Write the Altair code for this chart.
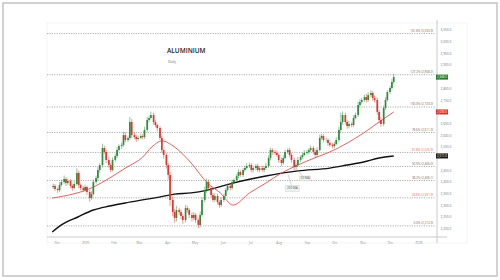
import altair as alt
import pandas as pd

# ---- data ----
closes = [
    2383, 2370,
    2365, 2387, 2400,  2412, 2395, 2404,  2383, 2374, 2391,  2438, 2387, 2374,
    2365, 2378, 2357,  2331, 2348, 2400,  2417, 2451, 2472,  2545, 2528, 2494,
    2472, 2451, 2494,  2511, 2536, 2553,  2558, 2600, 2579,  2588, 2656, 2600,
    2592, 2583, 2588,  2596, 2592, 2622,  2665, 2673, 2686,  2656, 2643, 2630,
    2588, 2536, 2515,  2472, 2430, 2323,  2271, 2246, 2280,  2271, 2254, 2237,
    2288, 2280, 2259,  2246, 2259, 2237,  2216, 2259, 2323,  2365, 2400, 2374,
    2344, 2323, 2340,  2314, 2301, 2323,  2340, 2365, 2383,  2374, 2400, 2408,
    2425, 2442, 2430,  2451, 2459, 2468,  2472, 2451, 2459,  2468, 2451, 2459,
    2451, 2459, 2468,  2502, 2536, 2528,  2524, 2515, 2494,  2481, 2502, 2528,
    2536, 2515, 2494,  2464, 2472, 2494,  2506, 2515, 2524,  2528, 2536, 2545,
    2528, 2515, 2536,  2588, 2596, 2579,  2579, 2566, 2558,  2553, 2562, 2579,
    2622, 2656, 2686,  2656, 2639, 2648,  2643, 2673, 2686,  2729, 2742, 2750,
    2763, 2750, 2771,  2780, 2759, 2750,  2699, 2665, 2648,  2716, 2750, 2784,
    2801, 2827, 2848,
]
first_open = 2378
up_wick = [
    10, 8,
    6, 12, 10, 15, 8, 10, 8, 6, 12, 20, 10, 6, 8, 10, 6, 8, 12, 10,
    10, 12, 8, 18, 10, 8, 12, 8, 10, 10, 12, 8, 10, 15, 12, 10, 22, 12,
    12, 8, 10, 10, 8, 14, 12, 10, 14, 10, 8, 6, 8, 10, 6, 8, 10, 12,
    15, 12, 18, 10, 12, 8, 14, 10, 8, 10, 12, 8, 8, 15, 12, 14, 15, 10,
    8, 10, 12, 10, 8, 12, 10, 8, 10, 12, 10, 8, 10, 12, 8, 8, 10, 12,
    10, 8, 6, 8, 10, 8, 10, 8, 12, 12, 10, 8, 8, 10, 6, 10, 12, 10,
    8, 10, 8, 10, 8, 12, 8, 10, 12, 10, 8, 10, 8, 10, 12, 14, 10, 8,
    10, 8, 6, 8, 10, 12, 12, 40, 15, 10, 8, 12, 8, 12, 10, 15, 12, 10,
    10, 14, 12, 12, 8, 10, 10, 8, 12, 10, 12, 8, 10, 12, 14,
]
dn_wick = [
    8, 10,
    12, 8, 6, 10, 12, 8, 10, 12, 6, 8, 14, 10, 8, 6, 12, 15, 8, 6,
    8, 10, 12, 10, 8, 14, 12, 10, 6, 8, 10, 6, 12, 8, 10, 8, 10, 12,
    10, 12, 8, 6, 10, 8, 8, 10, 6, 12, 10, 14, 10, 12, 16, 15, 20, 25,
    18, 20, 15, 12, 14, 16, 10, 12, 14, 15, 10, 12, 14, 10, 8, 10, 12, 8,
    12, 10, 8, 10, 12, 8, 10, 8, 6, 10, 8, 6, 8, 10, 8, 10, 8, 6,
    8, 10, 12, 10, 8, 10, 8, 10, 6, 8, 10, 12, 10, 8, 12, 14, 8, 6,
    8, 10, 12, 14, 10, 8, 10, 8, 6, 8, 10, 8, 10, 12, 8, 6, 8, 10,
    10, 12, 8, 10, 8, 6, 8, 10, 12, 10, 12, 10, 10, 8, 6, 8, 10, 8,
    8, 10, 8, 10, 12, 10, 12, 14, 12, 10, 8, 6, 8, 6, 8,
]

ma50_dates = ["2024-11-26", "2025-01-10", "2025-01-28", "2025-02-14", "2025-03-05",
              "2025-03-15", "2025-03-26", "2025-04-09", "2025-04-27", "2025-05-15",
              "2025-05-29", "2025-06-12", "2025-06-30", "2025-07-18", "2025-08-04",
              "2025-08-22", "2025-09-09", "2025-09-26", "2025-10-15", "2025-11-02",
              "2025-11-19", "2025-12-05"]
ma50_vals = [2331, 2378, 2417, 2459, 2506, 2549, 2575, 2549, 2481, 2395,
             2353, 2301, 2353, 2395, 2438, 2472, 2502, 2528, 2566, 2609,
             2656, 2699]

ma200_dates = ["2024-11-26", "2024-12-06", "2024-12-24", "2025-01-10", "2025-01-28",
               "2025-02-14", "2025-03-05", "2025-03-23", "2025-04-09", "2025-04-27",
               "2025-05-15", "2025-06-12", "2025-07-18", "2025-08-22", "2025-09-26",
               "2025-10-15", "2025-11-02", "2025-11-19", "2025-12-05"]
ma200_vals = [2186, 2216, 2250, 2280, 2297, 2310, 2323, 2335, 2348, 2353,
              2365, 2395, 2425, 2447, 2459, 2472, 2485, 2502, 2511]

fib_low = 2212
fib_high = 2720
fib_ratios = [0.0, 0.236, 0.382, 0.5, 0.618, 0.786, 1.0, 1.272, 1.618]
fib_names = ["0.0%", "23.6%", "38.2%", "50.0%", "61.8%", "78.6%", "100.0%", "127.2%", "161.8%"]
fib_colors = ["#666", "#e06060", "#666", "#666", "#e06060", "#666", "#666", "#666", "#666"]

# axis labels visible in the reference (those hidden behind the price tags are left out)
y_ticks = [2200, 2250, 2300, 2350, 2400, 2450, 2550, 2600, 2650, 2750, 2800,
           2900, 2950, 3000, 3050]
month_ticks = ["2024-12-01", "2025-01-01", "2025-02-01", "2025-03-01", "2025-04-01",
               "2025-05-01", "2025-06-01", "2025-07-01", "2025-08-01", "2025-09-01",
               "2025-10-01", "2025-11-01", "2025-12-01", "2026-01-01"]

last_price = closes[-1]
last_ma50 = ma50_vals[-1]
last_ma200 = ma200_vals[-1]

# ---- tables ----
dates = pd.bdate_range("2024-11-27", "2025-12-05", freq="C", weekmask="Mon Wed Fri")
n = min(len(dates), len(closes), len(up_wick), len(dn_wick))
opens = [first_open] + closes[:-1]
rows = []
for i in range(n):
    o, c = opens[i], closes[i]
    rows.append({
        "date": dates[i].strftime("%Y-%m-%d"),
        "open": o, "close": c,
        "high": max(o, c) + up_wick[i],
        "low": min(o, c) - dn_wick[i],
        "up": "up" if c >= o else "down",
    })
candles = pd.DataFrame(rows)
ma50 = pd.DataFrame({"date": ma50_dates, "v": ma50_vals})
ma200 = pd.DataFrame({"date": ma200_dates, "v": ma200_vals})
fib = pd.DataFrame({
    "v": [fib_low + r * (fib_high - fib_low) for r in fib_ratios],
    "name": fib_names, "col": fib_colors,
})
fib["label"] = [f"{nm} ({v:,.1f})" for nm, v in zip(fib["name"], fib["v"])]

W, H = 390, 214
FONT = "Open Sans"

xscale = alt.Scale(domain=[alt.DateTime(year=2024, month=11, date=25, hours=17),
                           alt.DateTime(year=2026, month=1, date=15, hours=22)])
yscale = alt.Scale(domain=[2164.5, 3079.2], nice=False, zero=False)

x_values = [alt.DateTime(year=int(d[:4]), month=int(d[5:7]), date=1) for d in month_ticks]
x_axis = alt.Axis(values=x_values,
                  labelExpr="month(datum.value) == 0 ? timeFormat(datum.value, '%Y') : timeFormat(datum.value, '%b')",
                  title=None, orient="bottom")
y_axis = alt.Axis(orient="right", values=y_ticks, format=",.1f", title=None)

X = alt.X("date:T", scale=xscale, axis=x_axis)

one = pd.DataFrame({"a": [0]})
frame = alt.Chart(one).mark_rect(
    fill=None, stroke="#c4c4c4", strokeWidth=1.5, clip=False
).encode(x=alt.value(-44), x2=alt.value(450), y=alt.value(-20), y2=alt.value(253))

panel = alt.Chart(one).mark_rect(
    fill=None, stroke="#ececec", strokeWidth=0.6, clip=False
).encode(x=alt.value(0), x2=alt.value(420), y=alt.value(0), y2=alt.value(220))

# axis lines running the full panel, as in the reference
vline = alt.Chart(one).mark_rule(color="#bdbdbd", strokeWidth=0.8, clip=False).encode(
    x=alt.value(390), y=alt.value(-3), y2=alt.value(220))
hline = alt.Chart(one).mark_rule(color="#bdbdbd", strokeWidth=0.8, clip=False).encode(
    x=alt.value(0), x2=alt.value(400), y=alt.value(214))

fib_lines = alt.Chart(fib).mark_rule(strokeDash=[1.2, 1.2], strokeWidth=0.7, color="#8c8c8c").encode(
    y=alt.Y("v:Q", scale=yscale, axis=y_axis), x=alt.value(0), x2=alt.value(388))

fib_text = alt.Chart(fib).mark_text(align="right", baseline="bottom", dy=-0.8, fontSize=3,
                                    font=FONT).encode(
    y=alt.Y("v:Q", scale=yscale, axis=y_axis), x=alt.value(386), text="label:N",
    color=alt.Color("col:N", scale=None))

line200 = alt.Chart(ma200).mark_line(color="#111", strokeWidth=1.4, interpolate="monotone").encode(
    x=X, y=alt.Y("v:Q", scale=yscale, axis=y_axis))
line50 = alt.Chart(ma50).mark_line(color="#e05050", strokeWidth=0.9, interpolate="monotone").encode(
    x=X, y=alt.Y("v:Q", scale=yscale, axis=y_axis))

cscale = alt.Scale(domain=["up", "down"], range=["#2f8a3b", "#e3342b"])
wicks = alt.Chart(candles).mark_rule(strokeWidth=0.5).encode(
    x=X, y=alt.Y("low:Q", scale=yscale, axis=y_axis), y2="high:Q",
    color=alt.Color("up:N", scale=cscale, legend=None))
bodies = alt.Chart(candles).mark_bar(width=1.7).encode(
    x=X, y=alt.Y("open:Q", scale=yscale, axis=y_axis), y2="close:Q",
    color=alt.Color("up:N", scale=cscale, legend=None))

# moving-average callouts
lead = pd.DataFrame({
    "g": ["50", "50", "200", "200"],
    "date": ["2025-08-20", "2025-08-27", "2025-08-11", "2025-08-15"],
    "v": [2459, 2425, 2434, 2386],
})
leaders = alt.Chart(lead).mark_line(color="#aaa", strokeWidth=0.5).encode(
    x=X, y=alt.Y("v:Q", scale=yscale, axis=y_axis), detail="g:N")
tags = pd.DataFrame({"date": ["2025-08-30", "2025-08-16"], "v": [2415, 2372],
                     "t": ["50 MA", "200 MA"], "s": [121, 196]})
tag_box = alt.Chart(tags).mark_point(shape="M-1,-0.42H1V0.42H-1Z", filled=True, fill="#f1f1f1",
                                     stroke="#cfcfcf", strokeWidth=0.5, opacity=1).encode(
    x=X, y=alt.Y("v:Q", scale=yscale, axis=y_axis), size=alt.Size("s:Q", scale=None))
tag_text = alt.Chart(tags).mark_text(fontSize=3, color="#555", font=FONT).encode(
    x=X, y=alt.Y("v:Q", scale=yscale, axis=y_axis), text="t:N")

# price boxes on the right axis
pbox = pd.DataFrame({"v": [last_price, last_ma50, last_ma200],
                     "col": ["#1f7a2e", "#e02a2a", "#1a1a1a"]})
pbox["t"] = [f"{v:,.1f}" for v in pbox["v"]]
pbox_rect = alt.Chart(pbox).mark_point(shape="M-1,-0.42H1V0.42H-1Z", filled=True, size=144,
                                       opacity=1, clip=False).encode(
    x=alt.value(395), y=alt.Y("v:Q", scale=yscale, axis=y_axis), fill=alt.Color("col:N", scale=None))
pbox_text = alt.Chart(pbox).mark_text(fontSize=3, color="white", font=FONT, clip=False).encode(
    x=alt.value(395), y=alt.Y("v:Q", scale=yscale, axis=y_axis), text="t:N")

title = alt.Chart(pd.DataFrame({"t": ["ALUMINIUM"]})).mark_text(
    align="left", baseline="middle", fontSize=6.5, color="#222", font=FONT, fontWeight=600
).encode(x=alt.value(120), y=alt.value(28), text="t:N")
sub = alt.Chart(pd.DataFrame({"t": ["Daily"]})).mark_text(
    align="left", baseline="middle", fontSize=3.5, color="#666", font=FONT
).encode(x=alt.value(121), y=alt.value(38.5), text="t:N")

chart = alt.layer(
    frame, panel, vline, hline, fib_lines, fib_text, line200, line50, wicks, bodies,
    leaders, tag_box, tag_text, pbox_rect, pbox_text, title, sub
).properties(
    width=W, height=H,
    autosize=alt.AutoSizeParams(type="none"),
    padding={"left": 47, "top": 23, "right": 63, "bottom": 43},
    background="white",
).configure_view(stroke=None).configure_axis(
    labelOverlap=False, labelSeparation=0, labelBound=False, labelFlush=False,
    grid=False, ticks=False, domain=False,
    labelFontSize=3.2, labelColor="#777", labelPadding=3, labelFont=FONT,
)

chart.save("out.html", embed_options={"renderer": "svg", "actions": False})
